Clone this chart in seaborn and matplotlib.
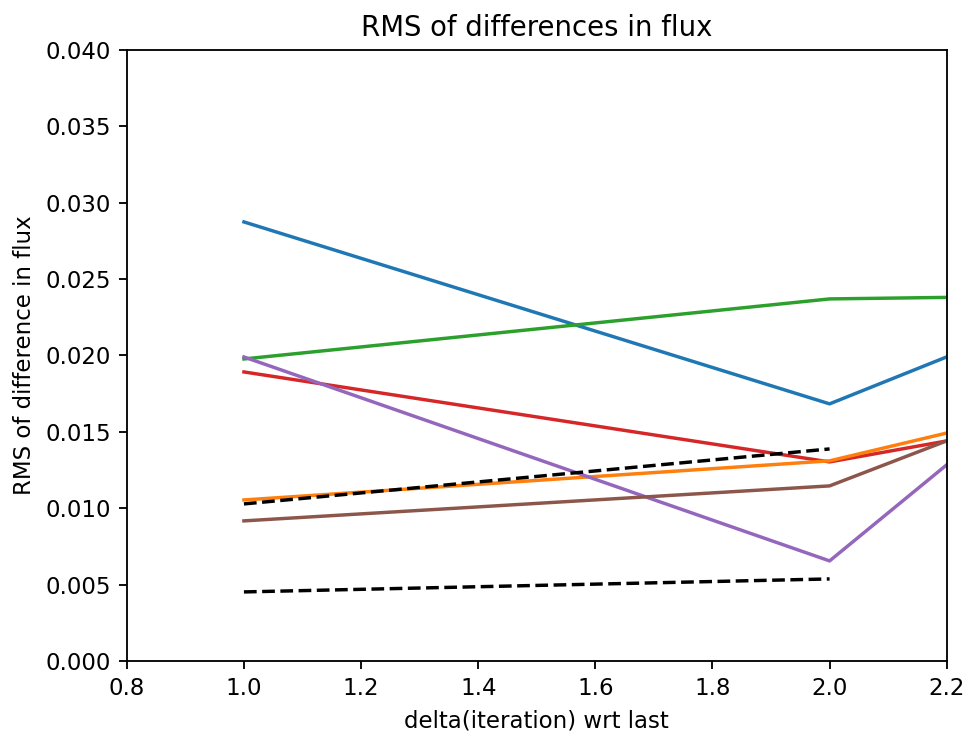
import matplotlib
matplotlib.use("Agg")
import matplotlib.pyplot as plt
import seaborn as sns

# delta(iteration) values
delta = [1.0, 2.0, 3.0]

# RMS of differences for each run (last point lies beyond the visible x range)
rms_blue = [0.02874, 0.01683, 0.0322]
rms_orange = [0.01054, 0.0131, 0.0222]
rms_green = [0.01977, 0.0237, 0.0242]
rms_red = [0.01892, 0.01303, 0.0199]
rms_purple = [0.0199, 0.00655, 0.0380]
rms_brown = [0.00917, 0.01146, 0.0262]

# dashed reference lines
ref_delta = [1.0, 2.0]
ref_upper = [0.01028, 0.01388]
ref_lower = [0.00452, 0.00537]

DPI = 165
fig = plt.figure(figsize=(968 / DPI, 734 / DPI), dpi=DPI)
ax = fig.add_axes([0.131, 0.0995, 0.847, 0.8325])

series = [
    (rms_blue, 'tab:blue'),
    (rms_green, 'tab:green'),
    (rms_red, 'tab:red'),
    (rms_orange, 'tab:orange'),
    (rms_purple, 'tab:purple'),
    (rms_brown, 'tab:brown'),
]
for vals, col in series:
    sns.lineplot(x=delta, y=vals, color=col, linewidth=1.5, ax=ax)

sns.lineplot(x=ref_delta, y=ref_upper, color='black', linestyle='--', linewidth=1.5, ax=ax)
sns.lineplot(x=ref_delta, y=ref_lower, color='black', linestyle='--', linewidth=1.5, ax=ax)

ax.set_xlim(0.8, 2.2)
ax.set_ylim(0, 0.04)
ax.set_xticks([0.8, 1.0, 1.2, 1.4, 1.6, 1.8, 2.0, 2.2])
ax.set_xticklabels(['0.8', '1.0', '1.2', '1.4', '1.6', '1.8', '2.0', '2.2'])
ax.set_yticks([0.0, 0.005, 0.01, 0.015, 0.02, 0.025, 0.03, 0.035, 0.04])
ax.set_yticklabels(['0.000', '0.005', '0.010', '0.015', '0.020', '0.025', '0.030', '0.035', '0.040'])
ax.set_title('RMS of differences in flux')
ax.set_xlabel('delta(iteration) wrt last')
ax.set_ylabel('RMS of difference in flux')

fig.savefig('out.png', dpi=DPI)
